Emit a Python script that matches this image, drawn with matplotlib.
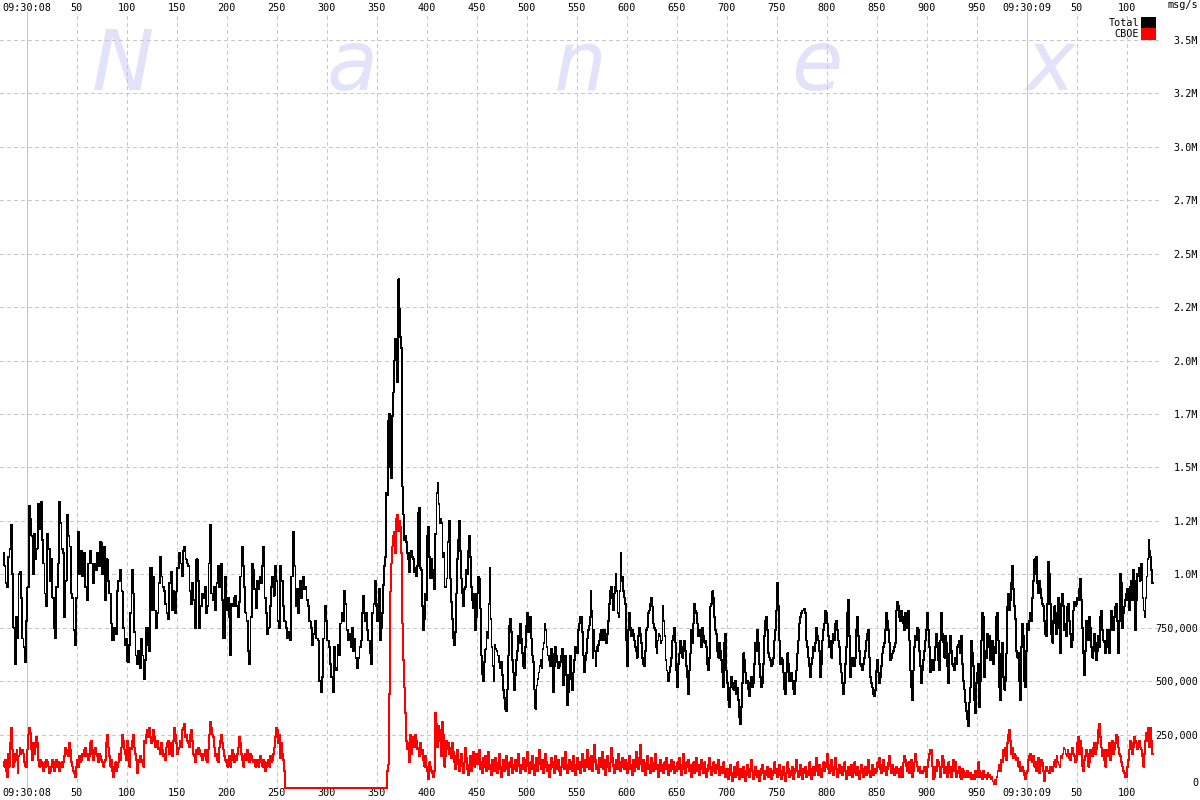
import numpy as np
import matplotlib
matplotlib.use("Agg")
import matplotlib.pyplot as plt
from matplotlib.patches import Rectangle

plt.rcParams['font.family'] = 'DejaVu Sans Mono'

W, H = 1200, 800  # output size in pixels

# time windows in ms after 09:30:08 (values inside a window are evenly spaced)
window_edges = [-23, 0, 50, 100, 150, 200, 250, 300, 350, 400, 450, 500, 550,
                600, 650, 700, 750, 800, 850, 900, 950, 1000, 1050, 1100, 1127]

# message rates in units of 10,000 msg/s, one list per window
total_windows = [
    [110, 104, 96, 94, 108, 112, 123, 100, 75, 58, 80, 70, 100, 101, 89, 70, 66, 59],
    [78, 94, 132, 126, 118, 100, 119, 107, 112, 133, 121, 134, 116, 105, 91, 85, 119, 112, 97, 107,
     89, 75, 70, 94, 105, 134, 124, 112, 110, 80, 97, 128, 118, 113, 91, 89, 74, 67],
    [89, 120, 100, 111, 99, 110, 94, 88, 105, 111, 105, 96, 105, 102, 110, 104, 115, 100, 113, 88,
     107, 97, 91, 77, 69, 75, 72, 92, 97, 102, 92, 75, 67],
    [70, 59, 67, 82, 102, 91, 73, 62, 58, 64, 56, 70, 62, 51, 60, 75, 67, 64, 103, 83,
     99, 83, 75, 82, 96, 108, 99, 94, 92, 86, 82, 79, 96, 101, 83, 92, 82],
    [92, 103, 110, 105, 99, 111, 113, 107, 105, 104, 92, 86, 96, 88, 75, 107, 97, 75, 85, 91,
     89, 94, 82, 85, 105, 123, 91, 88, 94, 83, 96, 104, 94, 105, 88, 70, 99],
    [83, 89, 80, 62, 86, 85, 89, 90, 85, 80, 87, 99, 113, 104, 94, 82, 78, 64, 58, 80,
     105, 102, 93, 84, 97, 93, 99, 96, 104, 113, 89, 82, 72, 75, 85, 94, 99, 90, 104],
    [97, 78, 75, 104, 97, 85, 78, 75, 70, 73, 69, 99, 120, 104, 85, 93, 82, 97, 89, 99,
     93, 94, 88, 85, 78, 75, 67, 72, 78, 70, 69, 50, 45, 52, 70, 85],
    [78, 69, 66, 58, 52, 45, 66, 56, 55, 67, 62, 77, 82, 78, 92, 86, 74, 69, 72, 66,
     75, 64, 70, 61, 56, 61, 66, 69, 82, 90, 78, 82, 74, 69, 63, 58, 82, 86, 97],
    [85, 78, 86, 93, 69, 75, 82, 95, 104, 108, 138, 137, 172, 175, 150, 145, 174, 185, 200, 210,
     200, 190, 238, 224, 211, 206, 141, 128, 116, 118, 115, 110, 107, 101, 110, 111, 108, 107, 101, 103,
     99, 104, 129, 131, 103, 102, 85, 74, 79, 91],
    [88, 118, 122, 108, 98, 107, 102, 98, 93, 119, 138, 143, 133, 124, 126, 124, 108, 110, 94, 94,
     98, 115, 125, 98, 87, 79, 70, 67, 73, 91, 107, 116, 125, 111, 98, 91, 85, 93, 94, 102,
     100, 111, 118, 108, 94, 88, 84, 91, 74],
    [80, 91, 99, 98, 84, 62, 53, 50, 59, 65, 73, 70, 86, 103, 79, 66, 57, 50, 67, 65,
     64, 62, 59, 56, 59, 53, 46, 42, 37, 36, 46, 62, 76, 79, 73, 60, 54, 46, 53, 60,
     64, 71, 68, 77, 70, 63, 57, 56, 66],
    [76, 82, 73, 76, 80, 70, 62, 59, 46, 37, 48, 51, 54, 57, 60, 56, 65, 68, 77, 74,
     66, 62, 60, 57, 65, 63, 45, 57, 66, 62, 59, 56, 57, 59, 62, 65, 48, 60, 62, 53,
     39, 45, 53, 62, 51, 46, 54, 60, 66],
    [66, 63, 74, 77, 80, 80, 73, 62, 54, 60, 63, 70, 74, 76, 80, 92, 83, 61, 74, 64,
     57, 66, 64, 67, 69, 72, 74, 69, 71, 74, 69, 68, 72, 78, 86, 92, 94, 89, 83, 91,
     94, 100, 92, 82, 80, 92, 110, 97, 99, 92, 89, 86],
    [69, 57, 74, 82, 75, 71, 74, 72, 69, 66, 64, 61, 71, 75, 72, 68, 61, 58, 57, 64,
     74, 75, 82, 83, 86, 89, 85, 77, 75, 74, 66, 63, 69, 72, 71, 68, 69, 85, 78, 71,
     60, 55, 52, 50, 54, 57, 61, 69, 71, 75, 68],
    [55, 47, 58, 63, 69, 66, 61, 66, 69, 64, 57, 52, 44, 55, 63, 74, 68, 77, 86, 83,
     82, 77, 71, 74, 72, 66, 75, 71, 68, 69, 66, 58, 55, 61, 85, 86, 92, 89, 80, 74,
     72, 64, 61, 68, 64, 60, 54, 47, 68, 72],
    [55, 49, 41, 38, 47, 52, 49, 46, 49, 50, 44, 47, 41, 33, 30, 38, 49, 63, 60, 54,
     49, 50, 46, 43, 49, 52, 47, 49, 58, 68, 64, 74, 68, 58, 52, 47, 49, 58, 71, 78,
     80, 74, 63, 61, 60, 57, 58, 61, 69, 74],
    [83, 96, 85, 69, 58, 61, 60, 54, 46, 44, 54, 63, 58, 50, 52, 54, 50, 46, 44, 50,
     55, 63, 69, 77, 80, 82, 83, 83, 84, 82, 69, 66, 61, 57, 52, 58, 61, 66, 64, 68,
     75, 71, 69, 64, 52, 58, 69, 74, 77, 83],
    [82, 77, 71, 66, 69, 61, 68, 72, 69, 77, 78, 74, 69, 66, 58, 54, 49, 44, 49, 58,
     66, 82, 88, 71, 52, 57, 61, 58, 57, 61, 74, 80, 71, 64, 58, 57, 55, 58, 61, 64,
     69, 72, 74, 61, 52, 49, 47, 44, 43, 46],
    [55, 60, 54, 49, 52, 57, 63, 66, 68, 74, 82, 78, 74, 68, 60, 61, 63, 64, 66, 68,
     83, 87, 85, 80, 78, 83, 80, 77, 74, 82, 75, 82, 83, 69, 55, 47, 41, 55, 66, 71,
     69, 75, 74, 64, 57, 49, 55, 60, 64, 69],
    [74, 82, 74, 66, 54, 57, 60, 55, 60, 66, 72, 68, 60, 55, 69, 82, 72, 68, 61, 71,
     68, 57, 49, 63, 71, 64, 58, 57, 55, 61, 58, 66, 67, 69, 63, 71, 58, 50, 46, 40,
     36, 32, 29, 40, 47, 69, 63, 57, 41, 35],
    [49, 54, 58, 38, 50, 69, 82, 80, 52, 64, 61, 72, 66, 71, 60, 64, 69, 58, 66, 63,
     80, 82, 69, 47, 41, 63, 68, 52, 46, 50, 63, 85, 91, 83, 88, 96, 104, 93, 85, 79,
     64, 61, 63, 50, 41, 66, 77, 71, 50, 47],
    [64, 77, 74, 78, 82, 78, 89, 97, 107, 100, 108, 96, 91, 97, 93, 89, 86, 85, 78, 72,
     71, 86, 106, 100, 86, 72, 68, 78, 85, 77, 72, 82, 89, 75, 63, 86, 91, 85, 74, 77,
     71, 85, 86, 78, 72, 66, 69, 83, 87, 85],
    [86, 89, 88, 93, 98, 88, 75, 63, 53, 64, 78, 75, 69, 80, 75, 66, 61, 64, 72, 68,
     60, 64, 71, 66, 80, 83, 74, 69, 68, 63, 69, 74, 66, 63, 74, 83, 78, 74, 80, 85,
     86, 78, 63, 78, 100, 96, 75, 82, 85, 88],
    [91, 93, 88, 83, 94, 97, 88, 102, 97, 74, 88, 100, 99, 103, 97, 105, 103, 89, 83, 80,
     89, 99, 107, 116, 111, 108, 102, 96],
]

cboe_windows = [
    [12, 10, 13, 8, 5, 16, 10, 21, 28, 18, 10, 12, 16, 13, 18, 7, 15, 19, 16, 18, 18, 16, 12, 10],
    [10, 18, 25, 28, 26, 18, 13, 21, 16, 19, 24, 21, 13, 10, 13, 12, 10, 8, 12, 10,
     13, 12, 10, 7, 8, 10, 13, 12, 8, 10, 13, 10, 12, 8, 10, 12, 10, 12, 15, 19,
     16, 18, 15, 21, 18, 12, 10, 8, 7, 5],
    [10, 13, 10, 15, 12, 13, 16, 15, 18, 19, 15, 16, 13, 15, 21, 22, 16, 13, 18, 19,
     16, 15, 12, 16, 15, 13, 12, 10, 12, 13, 21, 25, 19, 15, 10, 13, 8, 5, 10, 12,
     8, 10, 12, 16, 13, 19, 25, 22, 18, 16],
    [13, 22, 18, 10, 19, 18, 22, 25, 19, 16, 13, 7, 12, 13, 15, 12, 13, 10, 22, 21,
     25, 27, 24, 28, 24, 21, 22, 27, 24, 19, 21, 22, 18, 19, 16, 21, 18, 15, 16, 13,
     19, 21, 22, 16, 19, 21, 15, 22, 28, 25],
    [21, 16, 18, 19, 22, 19, 27, 28, 30, 24, 25, 22, 21, 19, 25, 27, 22, 16, 15, 12,
     18, 16, 19, 18, 16, 15, 13, 16, 15, 18, 13, 12, 18, 25, 31, 28, 25, 24, 19, 15,
     16, 13, 12, 19, 22, 25, 21, 18, 15, 13],
    [12, 10, 13, 15, 10, 13, 18, 16, 12, 15, 13, 16, 19, 24, 21, 16, 13, 10, 15, 16,
     13, 18, 15, 12, 16, 15, 13, 12, 13, 10, 12, 13, 10, 12, 15, 13, 10, 13, 12, 8,
     10, 12, 13, 10, 15, 12, 13, 16, 19, 24],
    [28, 27, 21, 25, 14, 21, 16, 13, 8, 0] + [0] * 40,
    [0] * 10,
    [0] * 10 + [0, 8, 11, 44, 92, 105, 113, 118, 120, 110, 126, 128, 120, 125, 122, 110, 77, 60, 47, 35,
                22, 18, 21, 12, 25, 16, 21, 24, 19, 25, 22, 18, 19, 15, 21, 16, 18, 13, 10, 15],
    [10, 8, 4, 12, 10, 8, 7, 5, 8, 35, 30, 19, 29, 27, 22, 15, 31, 25, 10, 15,
     22, 18, 21, 16, 19, 14, 21, 17, 12, 9, 15, 18, 11, 8, 13, 16, 10, 7, 12, 19,
     14, 9, 6, 11, 15, 8, 12, 17, 10, 13],
    [16, 11, 13, 18, 9, 12, 7, 14, 10, 15, 8, 12, 17, 9, 11, 6, 13, 10, 8, 14,
     11, 7, 12, 16, 9, 5, 10, 13, 8, 11, 15, 9, 6, 12, 10, 14, 7, 11, 9, 13,
     8, 12, 16, 10, 7, 11, 9, 14, 12, 8],
    [13, 17, 10, 7, 12, 9, 15, 11, 6, 10, 14, 8, 12, 18, 11, 9, 13, 7, 10, 16,
     12, 8, 11, 5, 9, 14, 10, 12, 7, 15, 11, 9, 13, 8, 6, 10, 14, 12, 9, 17,
     11, 7, 10, 13, 9, 12, 8, 15, 10, 6],
    [11, 14, 9, 12, 7, 10, 16, 12, 8, 13, 10, 18, 14, 9, 11, 15, 8, 12, 20, 13,
     9, 11, 7, 14, 10, 12, 17, 9, 13, 6, 10, 15, 11, 8, 12, 19, 14, 10, 7, 11,
     13, 9, 16, 12, 8, 10, 14, 11, 9, 13],
    [10, 7, 12, 15, 9, 11, 6, 13, 8, 10, 17, 12, 9, 14, 20, 11, 8, 13, 10, 6,
     12, 15, 9, 11, 7, 14, 10, 8, 12, 16, 9, 11, 5, 10, 13, 8, 11, 7, 12, 9,
     14, 10, 6, 11, 8, 13, 9, 12, 7, 10],
    [8, 12, 9, 14, 10, 6, 11, 16, 9, 7, 12, 10, 13, 8, 11, 5, 9, 12, 7, 10,
     14, 8, 11, 6, 9, 13, 10, 7, 12, 9, 5, 8, 11, 14, 9, 6, 10, 12, 8, 7,
     11, 9, 13, 6, 8, 10, 7, 12, 9, 5],
    [6, 9, 4, 8, 11, 6, 3, 7, 10, 5, 8, 12, 6, 4, 9, 7, 5, 10, 8, 3,
     6, 11, 7, 5, 9, 13, 8, 4, 6, 10, 7, 5, 8, 3, 6, 9, 11, 7, 4, 8,
     6, 10, 5, 7, 9, 4, 6, 8, 12, 7],
    [9, 5, 7, 11, 6, 4, 8, 10, 6, 3, 7, 12, 9, 5, 8, 6, 10, 4, 7, 9,
     13, 8, 5, 7, 11, 6, 4, 9, 7, 10, 5, 8, 6, 12, 9, 4, 7, 10, 6, 8,
     14, 9, 6, 11, 7, 5, 9, 12, 8, 10],
    [12, 16, 9, 7, 11, 13, 8, 6, 10, 14, 9, 5, 8, 11, 7, 10, 6, 9, 12, 8,
     4, 7, 10, 6, 9, 11, 5, 8, 12, 7, 6, 10, 8, 4, 7, 11, 9, 5, 8, 10,
     6, 9, 13, 7, 5, 8, 11, 6, 9, 7],
    [8, 12, 10, 14, 9, 7, 11, 13, 8, 10, 6, 9, 12, 15, 10, 7, 11, 9, 6, 8,
     10, 7, 9, 5, 7, 10, 5, 12, 15, 13, 10, 8, 12, 7, 10, 13, 5, 8, 12, 16,
     12, 10, 8, 10, 7, 8, 7, 8, 10, 8],
    [5, 10, 13, 16, 18, 18, 10, 4, 5, 10, 8, 13, 12, 10, 5, 10, 15, 13, 7, 10,
     8, 5, 12, 7, 10, 5, 8, 13, 8, 12, 5, 8, 7, 10, 5, 4, 9, 8, 5, 7,
     5, 8, 6, 5, 7, 4, 6, 5, 4, 8],
    [5, 5, 12, 8, 5, 7, 4, 8, 5, 6, 4, 7, 5, 6, 4, 5, 3, 2, 4, 2,
     5, 8, 11, 8, 13, 12, 18, 15, 19, 13, 21, 25, 27, 22, 16, 19, 14, 16, 15, 13,
     14, 10, 12, 8, 8, 10, 8, 6, 4],
    [7, 8, 13, 15, 16, 13, 12, 15, 10, 12, 8, 12, 14, 7, 10, 13, 12, 8, 3, 8,
     10, 8, 8, 7, 10, 8, 8, 10, 12, 13, 10, 15, 12, 11, 10, 15, 14, 16, 19, 18,
     16, 15, 18, 16, 14, 13, 16, 19, 16, 15, 12],
    [13, 21, 24, 16, 22, 19, 10, 8, 13, 15, 18, 16, 10, 12, 18, 16, 15, 19, 21, 16,
     18, 21, 27, 30, 24, 19, 15, 18, 13, 10, 18, 15, 16, 21, 13, 19, 22, 16, 18, 21,
     25, 24, 19, 16, 15, 12, 10, 8, 7, 5],
    [5, 10, 13, 18, 22, 21, 16, 19, 24, 22, 21, 18, 21, 22, 19, 18, 15, 10, 16, 22,
     26, 22, 28, 19, 28, 22, 16],
]

x_ticks = list(range(0, 1101, 50))
x_labels = ["09:30:08" if t == 0 else "09:30:09" if t == 1000 else str(t % 1000) for t in x_ticks]
y_ticks = [i * 250000 for i in range(15)]
y_labels = ["0", "250,000", "500,000", "750,000", "1.0M", "1.2M", "1.5M", "1.7M",
            "2.0M", "2.2M", "2.5M", "2.7M", "3.0M", "3.2M", "3.5M"]
series_names = ["Total", "CBOE"]
series_colors = ["#000000", "#ff0000"]


def expand(windows):
    xs, ys = [], []
    for a, b, vals in zip(window_edges[:-1], window_edges[1:], windows):
        xs.append(np.linspace(a, b, len(vals), endpoint=False))
        ys.append(np.asarray(vals, dtype=float) * 10000)
    return np.concatenate(xs), np.concatenate(ys)


fig = plt.figure(figsize=(W / 100, H / 100), dpi=100)
# plot area in pixels: x 0..1160, y 12..789
ax = fig.add_axes([0, (H - 789) / H, 1160 / W, (789 - 12) / H])
px_val = 250000 / 53.43
ax.set_xlim(-26.7, 1133.3)
ax.set_ylim(-px_val, (788 - 12) * px_val)
for s in ax.spines.values():
    s.set_visible(False)

# grid
grid_col = "#c8c8c8"
for t in x_ticks:
    if t % 1000 == 0:
        ax.axvline(t, color="#c4c4c4", lw=0.6, zorder=1, antialiased=False)
    else:
        ax.axvline(t, color=grid_col, lw=0.72, ls=(0, (4, 3)), zorder=1, antialiased=False)
for v in y_ticks[1:]:
    ax.axhline(v, color=grid_col, lw=0.72, ls=(0, (4, 3)), zorder=1, antialiased=False)

# watermark
for letter, cx in zip("Nanex", [123, 352, 580, 817, 1050]):
    ax.text(cx / W, 1 - 90 / H, letter, transform=fig.transFigure, ha="center", va="baseline",
            fontsize=60, family="DejaVu Sans", style="oblique", color="#e2e2fa", zorder=0)

for windows, col, z in [(total_windows, series_colors[0], 3), (cboe_windows, series_colors[1], 4)]:
    xv, yv = expand(windows)
    ax.plot(xv, yv, color=col, lw=0.55, drawstyle="steps-mid", antialiased=False, zorder=z)

ax.set_xticks(x_ticks)
ax.set_xticklabels(x_labels)
ax.tick_params(axis="x", length=0, labelsize=7.3, pad=-1, labeltop=True, labelbottom=True)
ax.yaxis.tick_right()
ax.set_yticks(y_ticks)
ax.set_yticklabels(y_labels, ha="right")
ax.tick_params(axis="y", length=0, labelsize=7.3, pad=27.4)
ax.get_yticklabels()[0].set_va("bottom")

fig.text(1198 / W, 1 - 5 / H, "msg/s", ha="right", va="center", fontsize=7.3)

# legend squares
for i, (name, col) in enumerate(zip(series_names, series_colors)):
    top = 17 + i * 11.5
    fig.add_artist(Rectangle((1141 / W, 1 - (top + 11) / H), 15 / W, 11 / H,
                             transform=fig.transFigure, color=col, lw=0))
    fig.text(1139 / W, 1 - (top + 5.5) / H, name, ha="right", va="center", fontsize=7.3)

fig.savefig("out.png", dpi=100)
